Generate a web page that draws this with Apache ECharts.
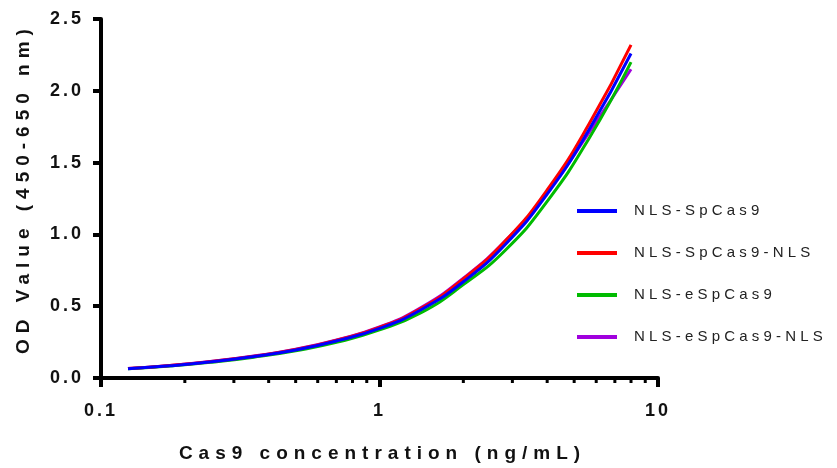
<!DOCTYPE html>
<html lang="en" style="height: 100%">
<head>
  <meta charset="utf-8">
</head>
<body style="height: 100%; margin: 0">
  <div id="container" style="width: 837px; height: 468px"></div>

  <script type="text/javascript" src="https://fastly.jsdelivr.net/npm/echarts@6/dist/echarts.min.js"></script>
  <script type="text/javascript">
    // concentrations (ng/mL)
    var conc = [0.125, 0.177, 0.25, 0.354, 0.5, 0.707, 1, 1.41, 2, 2.83, 4, 5.66, 8];
    var names = ['NLS-SpCas9', 'NLS-SpCas9-NLS', 'NLS-eSpCas9', 'NLS-eSpCas9-NLS'];
    var colors = ['#0000ff', '#ff0000', '#00bb00', '#a000dd'];
    var spCas9 = [0.065, 0.085, 0.113, 0.15, 0.195, 0.26, 0.345, 0.475, 0.67, 0.93, 1.28, 1.73, 2.26];
    var spCas9Nls = [0.066, 0.087, 0.115, 0.152, 0.198, 0.265, 0.352, 0.485, 0.69, 0.955, 1.31, 1.77, 2.32];
    var eSpCas9 = [0.064, 0.083, 0.11, 0.145, 0.19, 0.25, 0.335, 0.455, 0.65, 0.89, 1.23, 1.67, 2.2];
    var eSpCas9Nls = [0.066, 0.087, 0.116, 0.153, 0.2, 0.267, 0.355, 0.49, 0.695, 0.955, 1.29, 1.71, 2.15];
    var minorTicks = [0.2, 0.3, 0.4, 0.5, 0.6, 0.7, 0.8, 0.9, 2, 3, 4, 5, 6, 7, 8, 9];

    var font = 'Liberation Sans, Arial, sans-serif';
    var values = [spCas9, spCas9Nls, eSpCas9, eSpCas9Nls];
    var zs = [6, 5, 4, 3];

    // GraphPad-style letter spacing, picked by font size
    var fillText = CanvasRenderingContext2D.prototype.fillText;
    CanvasRenderingContext2D.prototype.fillText = function (t, x, y, w) {
      var f = this.font;
      this.letterSpacing = /19px/.test(f) ? '6px' : /15px/.test(f) ? '4.2px' : /18px/.test(f) ? '3px' : '0px';
      return w === undefined ? fillText.call(this, t, x, y) : fillText.call(this, t, x, y, w);
    };

    var dom = document.getElementById('container');
    var myChart = echarts.init(dom, null, { renderer: 'canvas' });

    var series = names.map(function (name, i) {
      return {
        name: name,
        type: 'line',
        smooth: true,
        showSymbol: false,
        z: zs[i],
        lineStyle: { width: 3, color: colors[i] },
        itemStyle: { color: colors[i] },
        data: conc.map(function (c, j) { return [c, values[i][j]]; })
      };
    });

    // minor ticks of the log axis at 2..9 of each decade
    series.push({
      type: 'custom',
      silent: true,
      clip: false,
      z: 10,
      data: minorTicks.map(function (v) { return [v, 0]; }),
      renderItem: function (params, api) {
        var p = api.coord([api.value(0), api.value(1)]);
        return {
          type: 'line',
          shape: { x1: p[0], y1: p[1], x2: p[0], y2: p[1] + 5 },
          style: { stroke: '#000', lineWidth: 3 }
        };
      }
    });

    var option = {
      animation: false,
      backgroundColor: '#fff',
      grid: { left: 101, right: 179, top: 19, bottom: 85 },
      legend: {
        data: names,
        orient: 'vertical',
        left: 572,
        top: 197,
        icon: 'rect',
        itemWidth: 40,
        itemHeight: 4,
        itemGap: 24,
        textStyle: {
          fontFamily: font,
          fontSize: 15,
          color: '#222',
          lineHeight: 18,
          padding: [0, 0, 0, 12]
        }
      },
      xAxis: {
        type: 'log',
        logBase: 10,
        min: 0.1,
        max: 10,
        name: 'Cas9 concentration (ng/mL)',
        nameLocation: 'middle',
        nameGap: 66,
        nameTextStyle: { fontFamily: font, fontSize: 19, fontWeight: 'bold', color: '#111', padding: [0, 0, 0, 6] },
        axisLine: { show: true, lineStyle: { color: '#000', width: 4 } },
        axisTick: { show: true, length: 9, lineStyle: { width: 4, color: '#000' } },
        splitLine: { show: false },
        axisLabel: {
          margin: 24,
          fontFamily: font,
          fontSize: 18,
          fontWeight: 'bold',
          color: '#111',
          formatter: function (v) { return String(v); }
        }
      },
      yAxis: {
        type: 'value',
        min: 0,
        max: 2.5,
        interval: 0.5,
        name: 'OD Value (450-650 nm)',
        nameLocation: 'middle',
        nameGap: 68,
        nameTextStyle: { fontFamily: font, fontSize: 19, fontWeight: 'bold', color: '#111', padding: [0, 0, 0, 20] },
        axisLine: { show: true, lineStyle: { color: '#000', width: 4 } },
        axisTick: { show: true, length: 8, lineStyle: { width: 4, color: '#000' } },
        splitLine: { show: false },
        axisLabel: {
          margin: 17,
          fontFamily: font,
          fontSize: 18,
          fontWeight: 'bold',
          color: '#111',
          formatter: function (v) { return v.toFixed(1); }
        }
      },
      series: series
    };

    myChart.setOption(option);
    window.addEventListener('resize', myChart.resize);
  </script>
</body>
</html>
